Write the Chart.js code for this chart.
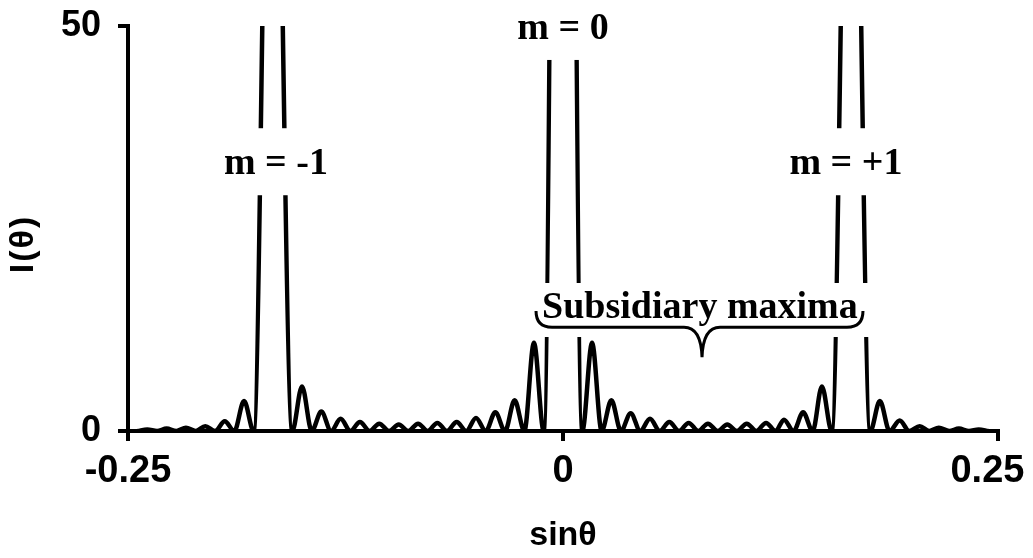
<!DOCTYPE html>
<html>
<head>
<meta charset="utf-8">
<script src="https://cdn.jsdelivr.net/npm/chart.js@4.4.0/dist/chart.umd.min.js"></script>
<style>
  html, body { margin: 0; padding: 0; background: #fff; }
  #wrap { width: 1033px; height: 558px; }
</style>
</head>
<body>
<div id="wrap"><canvas id="myCanvas"></canvas></div>
<script>
'use strict';

// grating pattern: sin(theta) and intensity
const sinTheta = [
  -0.2444, -0.2389, -0.2333, -0.2278, -0.2222, -0.2167, -0.2111, -0.2056, -0.2000, -0.1944,
  -0.1889, -0.1833, -0.1778, -0.1672, -0.1556, -0.1500, -0.1444, -0.1389, -0.1333, -0.1278,
  -0.1222, -0.1167, -0.1111, -0.1056, -0.1000, -0.0944, -0.0889, -0.0833, -0.0778, -0.0722,
  -0.0667, -0.0611, -0.0556, -0.0500, -0.0444, -0.0389, -0.0333, -0.0278, -0.0222, -0.0167,
  -0.0111, 0, 0.0111, 0.0167, 0.0222, 0.0278, 0.0333, 0.0389, 0.0444, 0.0500,
  0.0556, 0.0611, 0.0667, 0.0722, 0.0778, 0.0833, 0.0889, 0.0944, 0.1000, 0.1056,
  0.1111, 0.1167, 0.1222, 0.1270, 0.1325, 0.1380, 0.1435, 0.1488, 0.1544, 0.1655,
  0.1766, 0.1821, 0.1877, 0.1935, 0.1990, 0.2050, 0.2105, 0.2160, 0.2220, 0.2275,
  0.2333, 0.2389, 0.2444
];
const intensity = [
  0, 0.2, 0, 0.3, 0, 0.4, 0, 0.6, 0, 1.2,
  0, 3.7, 0, 110, 0, 5.5, 0, 2.4, 0, 1.5,
  0, 1.1, 0, 0.9, 0, 0.8, 0, 0.9, 0, 1.0,
  0, 1.1, 0, 1.6, 0, 2.3, 0, 3.8, 0, 10.9,
  0, 225, 0, 10.9, 0, 3.8, 0, 2.2, 0, 1.5,
  0, 1.1, 0, 1.0, 0, 0.9, 0, 0.8, 0, 0.9,
  0, 1.0, 0, 1.4, 0, 2.3, 0, 5.5, 0, 110,
  0, 3.7, 0, 1.3, 0, 0.6, 0, 0.4, 0, 0.3,
  0, 0.2, 0
];

const xTicks = [-0.25, 0, 0.25];
const xTickText = ['-0.25', '0', '0.25  '];  // last one nudged in from the edge
const yTicks = [0, 50];

// order labels over the principal maxima (x centre, y baseline)
const orderText = ['m = -1', 'm = 0', 'm = +1'];
const orderX = [-0.165, 0, 0.1626];
const orderY = [31.7, 48.4, 31.7];

// note under the subsidiary maxima
const noteText = 'Subsidiary maxima';
const noteX = 0.0787;
const noteY = 13.95;
const braceX = [-0.0155, 0.0799, 0.1724];  // left end, tip, right end
const braceY = [14.8, 12.8, 9.1];          // ends, bar, tip

const SERIF = 'bold 38px "Liberation Serif", "Times New Roman", serif';
const SANS = '"Liberation Sans", Arial, sans-serif';

const notes = {
  id: 'notes',
  afterDatasetsDraw(chart) {
    const {ctx, scales: {x, y}} = chart;
    ctx.save();
    ctx.font = SERIF;
    ctx.textAlign = 'center';
    ctx.textBaseline = 'alphabetic';

    for (let i = 0; i < orderText.length; i++) {
      const px = x.getPixelForValue(orderX[i]);
      const py = y.getPixelForValue(orderY[i]);
      const w = ctx.measureText(orderText[i]).width + 12;
      ctx.fillStyle = '#fff';
      ctx.fillRect(px - w / 2, py - 46, w, 67);
      ctx.fillStyle = '#000';
      ctx.fillText(orderText[i], px, py);
    }

    // subsidiary maxima box, text and brace
    const nx = x.getPixelForValue(noteX);
    const ny = y.getPixelForValue(noteY);
    const nw = ctx.measureText(noteText).width + 26;
    ctx.fillStyle = '#fff';
    ctx.fillRect(nx - nw / 2, ny - 35, nw, 54);
    ctx.fillStyle = '#000';
    ctx.fillText(noteText, nx, ny);

    const bl = x.getPixelForValue(braceX[0]);
    const bt = x.getPixelForValue(braceX[1]);
    const br = x.getPixelForValue(braceX[2]);
    const yEnd = y.getPixelForValue(braceY[0]);
    const yBar = y.getPixelForValue(braceY[1]);
    const yTip = y.getPixelForValue(braceY[2]);
    ctx.beginPath();
    ctx.moveTo(bl, yEnd);
    ctx.quadraticCurveTo(bl, yBar, bl + 16, yBar);
    ctx.lineTo(bt - 18, yBar);
    ctx.quadraticCurveTo(bt - 1, yBar, bt, yTip);
    ctx.quadraticCurveTo(bt + 1, yBar, bt + 18, yBar);
    ctx.lineTo(br - 16, yBar);
    ctx.quadraticCurveTo(br, yBar, br, yEnd);
    ctx.lineWidth = 3;
    ctx.strokeStyle = '#000';
    ctx.stroke();
    ctx.restore();
  },
  afterDraw(chart) {
    const {ctx, scales: {x}} = chart;
    ctx.save();
    ctx.fillStyle = '#000';
    ctx.font = 'bold 34px ' + SANS;
    ctx.textAlign = 'center';
    ctx.textBaseline = 'middle';
    ctx.fillText('sinθ', x.getPixelForValue(0), 536);
    // y title, rotated along the axis
    ctx.font = 'bold 34px ' + SANS;
    ctx.letterSpacing = '2px';
    ctx.textAlign = 'left';
    const tw = ctx.measureText('I(θ)').width - 2;
    ctx.translate(24, 245);
    ctx.rotate(-Math.PI / 2);
    ctx.fillText('I(θ)', -tw / 2, 0);
    ctx.restore();
  }
};

const points = sinTheta.map((v, i) => ({x: v, y: intensity[i]}));

const ctx = document.getElementById('myCanvas').getContext('2d');
const myChart = new Chart(ctx, {
  type: 'scatter',
  data: {
    datasets: [{
      data: points,
      showLine: true,
      borderColor: '#000',
      borderWidth: 4.5,
      pointRadius: 0,
      cubicInterpolationMode: 'monotone',
      fill: false
    }]
  },
  options: {
    responsive: true,
    maintainAspectRatio: false,
    animation: false,
    layout: {padding: {top: 26, right: 35, left: 0, bottom: 0}},
    plugins: {legend: {display: false}, tooltip: {enabled: false}},
    scales: {
      x: {
        type: 'linear',
        min: -0.25,
        max: 0.25,
        afterBuildTicks: s => { s.ticks = xTicks.map(v => ({value: v})); },
        afterFit: s => { s.height = 127; s.paddingLeft = 0; s.paddingRight = 0; },
        ticks: {
          color: '#000',
          font: {family: SANS, size: 38, weight: 'bold'},
          padding: 8,
          maxRotation: 0,
          callback: (v, i) => xTickText[i]
        },
        grid: {drawOnChartArea: false, drawTicks: true, tickLength: 10, color: '#000', lineWidth: 4},
        border: {display: true, color: '#000', width: 4}
      },
      y: {
        type: 'linear',
        min: 0,
        max: 50,
        afterBuildTicks: s => { s.ticks = yTicks.map(v => ({value: v})); },
        afterFit: s => { s.width = 128; s.paddingTop = 0; s.paddingBottom = 0; },
        ticks: {
          color: '#000',
          font: {family: SANS, size: 36, weight: 'bold'},
          padding: 17,
          callback: v => String(v)
        },
        grid: {drawOnChartArea: false, drawTicks: true, tickLength: 10, color: '#000', lineWidth: 4},
        border: {display: true, color: '#000', width: 4}
      }
    }
  },
  plugins: [notes]
});
</script>
</body>
</html>
